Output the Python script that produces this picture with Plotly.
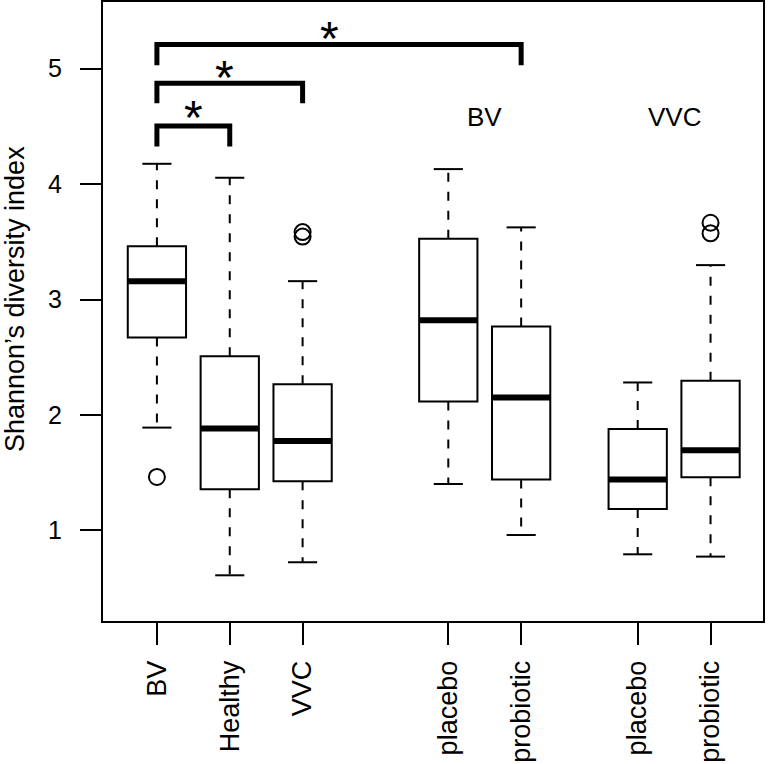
import plotly.graph_objects as go

# ---------------- data ----------------
labels = ["BV", "Healthy", "VVC", "placebo", "probiotic", "placebo", "probiotic"]
positions = [1, 2, 3, 5, 6, 7.6, 8.6]
upper = [4.176, 4.055, 3.159, 4.130, 3.625, 2.281, 3.298]
q3 = [3.462, 2.509, 2.266, 3.526, 2.766, 1.878, 2.295]
median = [3.159, 1.882, 1.774, 2.821, 2.151, 1.440, 1.694]
q1 = [2.671, 1.356, 1.425, 2.116, 1.440, 1.185, 1.460]
lower = [1.890, 0.610, 0.723, 1.401, 0.959, 0.792, 0.772]

outlier_group = [0, 2, 2, 6, 6]
outlier_value = [1.462, 3.584, 3.545, 3.665, 3.573]

# significance brackets: from group index, to group index, leg bottom, bar height
bracket_from = [0, 0, 0]
bracket_to = [1, 2, 4]
bracket_leg = [4.325, 4.700, 5.030]
bracket_bar = [4.503, 4.873, 5.210]
star_x = [1.5, 1.93, 3.37]
star_y = [4.65, 4.99, 5.335]

group_titles = ["BV", "VVC"]
group_title_x = [5.5, 8.1]
group_title_y = [4.58, 4.58]

BOXW = 0.8
CAPW = 0.4
FONT = "Liberation Sans, Arial, Helvetica, sans-serif"

fig = go.Figure()

# whiskers (dashed)
wx, wy = [], []
for p, u, a, b, l in zip(positions, upper, q3, q1, lower):
    wx += [p, p, None, p, p, None]
    wy += [a, u, None, b, l, None]
fig.add_trace(go.Scatter(x=wx, y=wy, mode="lines",
                         line=dict(color="black", width=2, dash="9px,10px"),
                         hoverinfo="skip", showlegend=False))

# caps
cx, cy = [], []
for p, u, l in zip(positions, upper, lower):
    cx += [p - CAPW / 2, p + CAPW / 2, None, p - CAPW / 2, p + CAPW / 2, None]
    cy += [u, u, None, l, l, None]
fig.add_trace(go.Scatter(x=cx, y=cy, mode="lines",
                         line=dict(color="black", width=2),
                         hoverinfo="skip", showlegend=False))

# boxes
fig.add_trace(go.Box(x=positions, q1=q1, median=median, q3=q3,
                     lowerfence=q1, upperfence=q3, width=BOXW,
                     whiskerwidth=0, boxpoints=False,
                     fillcolor="white", line=dict(color="black", width=2),
                     hoverinfo="skip", showlegend=False))

# thick medians
mx, my = [], []
for p, m in zip(positions, median):
    mx += [p - BOXW / 2, p + BOXW / 2, None]
    my += [m, m, None]
fig.add_trace(go.Scatter(x=mx, y=my, mode="lines",
                         line=dict(color="black", width=6),
                         hoverinfo="skip", showlegend=False))

# outliers
fig.add_trace(go.Scatter(x=[positions[g] for g in outlier_group], y=outlier_value,
                         mode="markers",
                         marker=dict(symbol="circle-open", size=16, color="black",
                                     line=dict(width=2, color="black")),
                         hoverinfo="skip", showlegend=False))

# brackets
for f, t, lg, br in zip(bracket_from, bracket_to, bracket_leg, bracket_bar):
    x1, x2 = positions[f], positions[t]
    fig.add_trace(go.Scatter(x=[x1, x1, x2, x2], y=[lg, br, br, lg], mode="lines",
                             line=dict(color="black", width=5),
                             hoverinfo="skip", showlegend=False))

for sx, sy in zip(star_x, star_y):
    fig.add_annotation(x=sx, y=sy, text="*", showarrow=False,
                       xanchor="center", yanchor="middle", yshift=-8,
                       font=dict(family=FONT, size=48, color="black"))

for t, gx, gy in zip(group_titles, group_title_x, group_title_y):
    fig.add_annotation(x=gx, y=gy, text=t, showarrow=False,
                       xanchor="center", yanchor="middle",
                       font=dict(family=FONT, size=26, color="black"))

fig.add_annotation(xref="paper", yref="y", x=-0.134, y=3.0,
                   text="Shannon\u2019s diversity index", textangle=-90,
                   showarrow=False, xanchor="center", yanchor="middle",
                   font=dict(family=FONT, size=27, color="black"))

fig.update_layout(
    template="none",
    width=768, height=764,
    margin=dict(l=103, r=5, t=2, b=143, pad=0),
    paper_bgcolor="white", plot_bgcolor="white",
    font=dict(family=FONT, color="black"),
    showlegend=False,
    xaxis=dict(range=[0.26, 9.32], tickmode="array", tickvals=positions,
               ticktext=labels, tickangle=-90, ticks="outside", ticklen=22,
               tickwidth=2, tickcolor="black", showline=True, linewidth=2,
               linecolor="black", mirror=True, showgrid=False, zeroline=False,
               automargin=False,
               tickfont=dict(family=FONT, size=27, color="black"),
               ticklabelstandoff=5),
    yaxis=dict(range=[0.214, 5.578], tickmode="array", tickvals=[1, 2, 3, 4, 5],
               ticktext=["1", "2", "3", "4", "5"], ticks="outside", ticklen=21,
               tickwidth=2, tickcolor="black", showline=True, linewidth=2,
               linecolor="black", mirror=True, showgrid=False, zeroline=False,
               automargin=False,
               tickfont=dict(family=FONT, size=25, color="black"),
               ticklabelstandoff=13),
)

fig.write_html("out.html",
               config={"displayModeBar": False},
               post_script="document.body.style.margin='0px';"
                           "document.body.style.padding='0px';")
